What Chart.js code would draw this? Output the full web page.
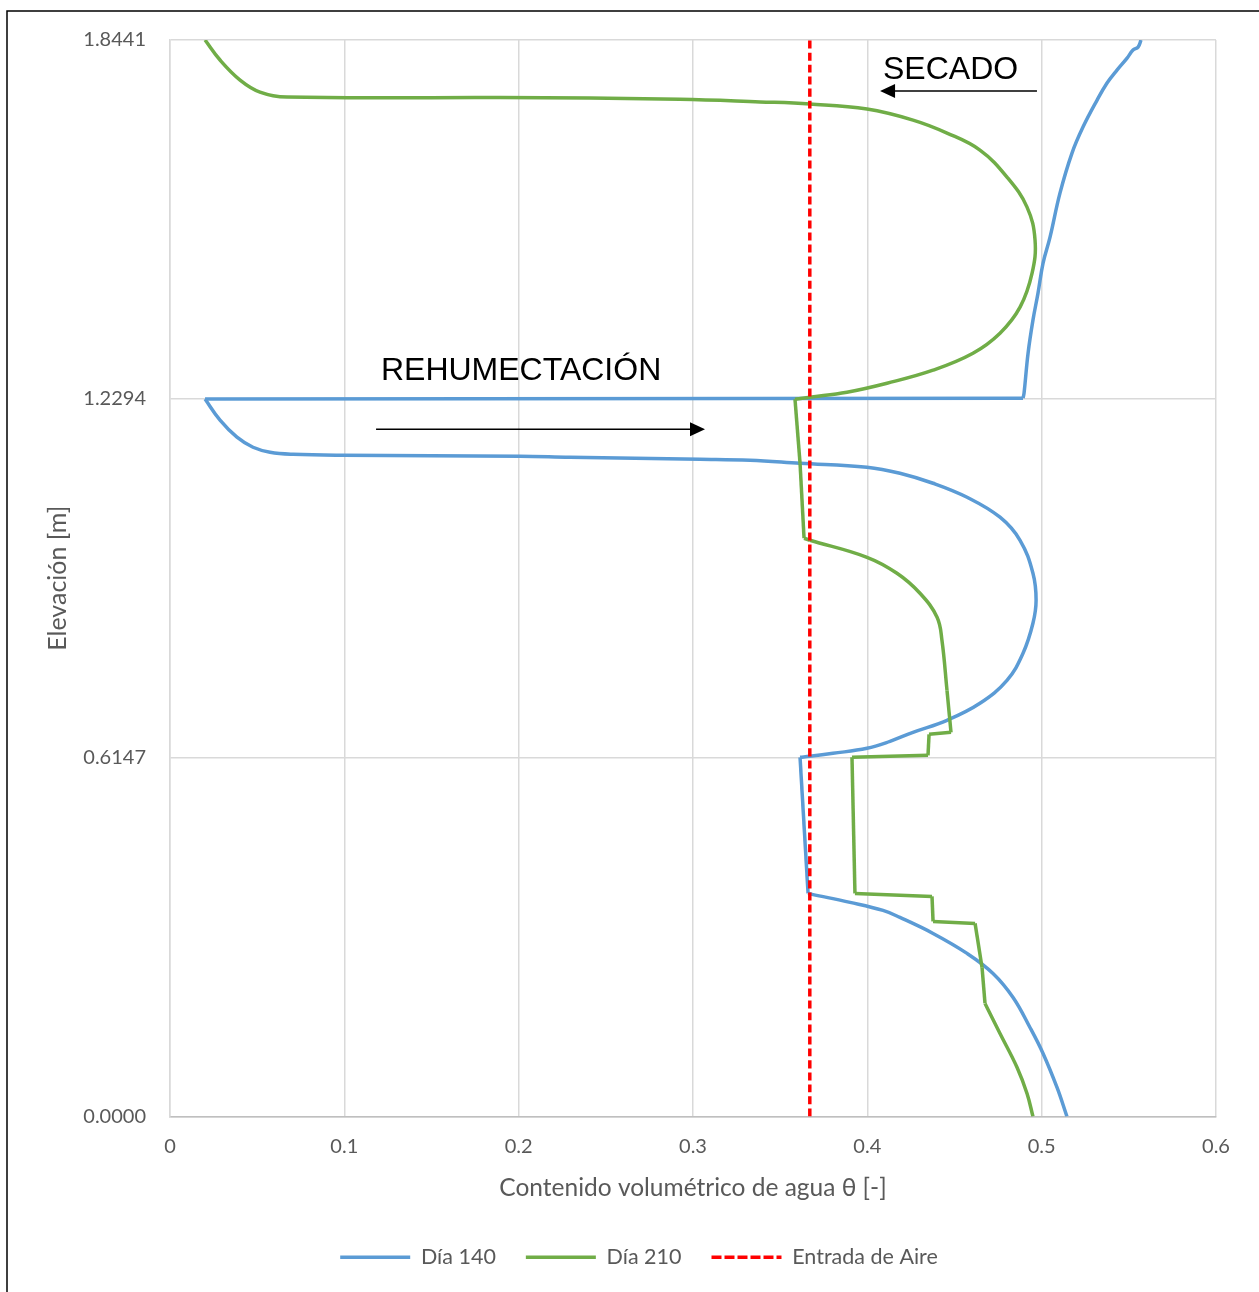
<!DOCTYPE html>
<html lang="es">
<head>
<meta charset="UTF-8">
<title>Contenido volumétrico de agua</title>
<script src="https://cdn.jsdelivr.net/npm/chart.js@4.4.1/dist/chart.umd.min.js"></script>
<style>
  html, body { margin: 0; padding: 0; background: #fff; }
  canvas { display: block; }
</style>
</head>
<body>
<canvas id="chart" width="1259" height="1292"></canvas>
<script>
// ticks
const xTicks = [0, 0.1, 0.2, 0.3, 0.4, 0.5, 0.6];
const yTicks = [0, 0.6147, 1.2294, 1.8441];

// Día 140 (de arriba hacia abajo)
const dia140X = [0.5570, 0.5553, 0.5524, 0.5490, 0.5432, 0.5375, 0.5318, 0.5237, 0.5174, 0.5105,
  0.5048, 0.5008, 0.4979, 0.4950, 0.4922, 0.4899, 0.4893, 0.0201, 0.0287, 0.0384,
  0.0476, 0.0574, 0.0706, 0.0992, 0.2008, 0.2294, 0.3040, 0.3327, 0.3614, 0.3998,
  0.4187, 0.4377, 0.4572, 0.4761, 0.4876, 0.4950, 0.4968, 0.4950, 0.4893, 0.4801,
  0.4646, 0.4457, 0.4262, 0.4130, 0.3998, 0.3803, 0.3671, 0.3614, 0.3660, 0.3683,
  0.3901, 0.4090, 0.4187, 0.4377, 0.4572, 0.4721, 0.4836, 0.4933, 0.5008, 0.5088,
  0.5145];
const dia140Y = [1.8441, 1.8320, 1.8269, 1.8132, 1.7926, 1.7704, 1.7412, 1.6949, 1.6504, 1.5818,
  1.5064, 1.4619, 1.4105, 1.3642, 1.3076, 1.2391, 1.2305, 1.2290, 1.1928, 1.1637,
  1.1465, 1.1380, 1.1345, 1.1328, 1.1311, 1.1294, 1.1260, 1.1243, 1.1191, 1.1123,
  1.1020, 1.0848, 1.0608, 1.0266, 0.9871, 0.9306, 0.8843, 0.8449, 0.7935, 0.7472,
  0.7078, 0.6787, 0.6581, 0.6427, 0.6307, 0.6221, 0.6170, 0.6153, 0.3822, 0.3805,
  0.3668, 0.3530, 0.3410, 0.3136, 0.2794, 0.2451, 0.2039, 0.1525, 0.1080, 0.0497,
  0.0000];
// tramos rectos (segmento i -> i+1), el resto es curva suave
const rectos140 = [16, 47];

// Día 210
const dia210X = [0.0201, 0.0287, 0.0402, 0.0516, 0.0671, 0.1893, 0.2925, 0.3384, 0.3671, 0.3998,
  0.4262, 0.4457, 0.4646, 0.4801, 0.4916, 0.4962, 0.4945, 0.4876, 0.4761, 0.4606,
  0.4377, 0.4113, 0.3883, 0.3671, 0.3585, 0.3614, 0.3637, 0.3671, 0.3998, 0.4170,
  0.4302, 0.4400, 0.4428, 0.4457, 0.4480, 0.4354, 0.4348, 0.3912, 0.3929, 0.4371,
  0.4377, 0.4618, 0.4658, 0.4675, 0.4761, 0.4859, 0.4916, 0.4950];
const dia210Y = [1.8441, 1.8098, 1.7755, 1.7549, 1.7464, 1.7455, 1.7427, 1.7381, 1.7344, 1.7258,
  1.7069, 1.6847, 1.6555, 1.6093, 1.5578, 1.5013, 1.4447, 1.3865, 1.3419, 1.3076,
  1.2785, 1.2562, 1.2408, 1.2322, 1.2288, 1.1191, 0.9906, 0.9871, 0.9580, 0.9306,
  0.8963, 0.8552, 0.8158, 0.7301, 0.6581, 0.6547, 0.6187, 0.6153, 0.3822, 0.3770,
  0.3342, 0.3308, 0.2554, 0.1937, 0.1422, 0.0840, 0.0394, 0.0000];
const rectos210 = [24, 25, 26, 33, 34, 35, 36, 37, 38, 39, 40, 41, 42];

// Entrada de aire
const aireX = [0.367, 0.367];
const aireY = [0, 1.8441];

// anotaciones (texto + flecha, en coordenadas de los ejes)
const notas = [
  { texto: 'SECADO', x: 0.4090, y: 1.7927, flecha: [0.4973, 1.7566, 0.4073, 1.7566] },
  { texto: 'REHUMECTACIÓN', x: 0.1210, y: 1.2768, flecha: [0.1182, 1.1774, 0.3069, 1.1774] }
];

const gris = '#595959';

// parte una serie en trozos: curvas suaves y segmentos rectos
function trozos(xs, ys, rectos, estilo, etiqueta) {
  const partes = [];
  let ini = 0;
  rectos.forEach(i => {
    if (i > ini) partes.push([ini, i, 0.4]);
    partes.push([i, i + 1, 0]);
    ini = i + 1;
  });
  if (ini < xs.length - 1) partes.push([ini, xs.length - 1, 0.4]);
  return partes.map((p, k) => Object.assign({
    label: k === 0 ? etiqueta : '',
    data: xs.slice(p[0], p[1] + 1).map((x, j) => ({ x: x, y: ys[p[0] + j] })),
    showLine: true,
    tension: p[2],
    pointRadius: 0,
    pointStyle: 'line'
  }, estilo));
}

const datasets = [].concat(
  trozos(dia140X, dia140Y, rectos140,
    { borderColor: '#5B9BD5', backgroundColor: '#5B9BD5', borderWidth: 3.5, order: 2 }, 'Día 140'),
  trozos(dia210X, dia210Y, rectos210,
    { borderColor: '#70AD47', backgroundColor: '#70AD47', borderWidth: 3.5, order: 1 }, 'Día 210'),
  trozos(aireX, aireY, [],
    { borderColor: '#FF0000', backgroundColor: '#FF0000', borderWidth: 3.5, borderDash: [8, 4], order: 0 }, 'Entrada de Aire')
);

const notasPlugin = {
  id: 'notas',
  afterDatasetsDraw(chart) {
    const { ctx, scales: { x, y } } = chart;
    ctx.save();
    ctx.fillStyle = '#000';
    ctx.strokeStyle = '#000';
    ctx.font = '32px "Liberation Sans", Arial, sans-serif';
    ctx.textAlign = 'left';
    ctx.textBaseline = 'middle';
    notas.forEach(n => {
      ctx.fillText(n.texto, x.getPixelForValue(n.x), y.getPixelForValue(n.y));
      const x0 = x.getPixelForValue(n.flecha[0]), y0 = y.getPixelForValue(n.flecha[1]);
      const x1 = x.getPixelForValue(n.flecha[2]), y1 = y.getPixelForValue(n.flecha[3]);
      const dir = Math.sign(x1 - x0);
      ctx.lineWidth = 1.5;
      ctx.beginPath();
      ctx.moveTo(x0, y0);
      ctx.lineTo(x1 - dir * 10, y1);
      ctx.stroke();
      ctx.beginPath();
      ctx.moveTo(x1, y1);
      ctx.lineTo(x1 - dir * 15, y1 - 7);
      ctx.lineTo(x1 - dir * 15, y1 + 7);
      ctx.closePath();
      ctx.fill();
    });
    ctx.restore();
  }
};

// marco negro del gráfico y leyenda un poco desplazada a la derecha
const marcoPlugin = {
  id: 'marco',
  afterLayout(chart) {
    chart.legend.left += 31;
    chart.legend.right += 31;
  },
  afterDraw(chart) {
    const ctx = chart.ctx;
    ctx.save();
    ctx.strokeStyle = '#000';
    ctx.lineWidth = 1.5;
    ctx.beginPath();
    ctx.moveTo(7, chart.height);
    ctx.lineTo(7, 11);
    ctx.lineTo(chart.width, 11);
    ctx.stroke();
    ctx.restore();
  }
};

new Chart(document.getElementById('chart'), {
  type: 'scatter',
  data: { datasets: datasets },
  options: {
    responsive: false,
    animation: false,
    layout: { padding: { left: 0, right: 43, top: 40, bottom: 14 } },
    plugins: {
      tooltip: { enabled: false },
      legend: {
        position: 'bottom',
        labels: {
          usePointStyle: true,
          pointStyleWidth: 70,
          padding: 30,
          color: gris,
          font: { family: 'Lato', size: 21.5 },
          generateLabels: chart => Chart.defaults.plugins.legend.labels.generateLabels(chart)
            .filter(it => it.text)
            .map(it => {
              const ds = chart.data.datasets[it.datasetIndex];
              it.lineDash = ds.borderDash ? [10, 3] : [];
              it.lineWidth = 3.5;
              it.strokeStyle = ds.borderColor;
              return it;
            }),
          sort: (a, b) => a.datasetIndex - b.datasetIndex
        }
      }
    },
    scales: {
      x: {
        type: 'linear',
        min: 0,
        max: 0.6,
        afterBuildTicks: s => { s.ticks = xTicks.map(v => ({ value: v })); },
        afterFit: s => { s.height = 100; },
        ticks: {
          color: gris,
          padding: 18,
          font: { family: 'Lato', size: 20 },
          callback: v => String(Math.round(v * 10) / 10)
        },
        grid: { color: '#d9d9d9', lineWidth: 1.5, drawTicks: false },
        border: { color: '#bfbfbf', width: 1.5 },
        title: {
          display: true,
          text: 'Contenido volumétrico de agua θ [-]',
          color: gris,
          font: { family: 'Lato', size: 24.5 },
          padding: { top: 0, bottom: 14 }
        }
      },
      y: {
        type: 'linear',
        min: 0,
        max: 1.8441,
        afterBuildTicks: s => { s.ticks = yTicks.map(v => ({ value: v })); },
        afterFit: s => { s.width = 170; },
        ticks: {
          color: gris,
          padding: 24,
          font: { family: 'Lato', size: 20 },
          callback: v => v.toFixed(4)
        },
        grid: { color: '#d9d9d9', lineWidth: 1.5, drawTicks: false },
        border: { color: '#d9d9d9', width: 1.5 },
        title: {
          display: true,
          text: 'Elevación [m]',
          color: gris,
          font: { family: 'Lato', size: 25 },
          padding: { top: 43, bottom: 0 }
        }
      }
    }
  },
  plugins: [notasPlugin, marcoPlugin]
});
</script>
</body>
</html>
